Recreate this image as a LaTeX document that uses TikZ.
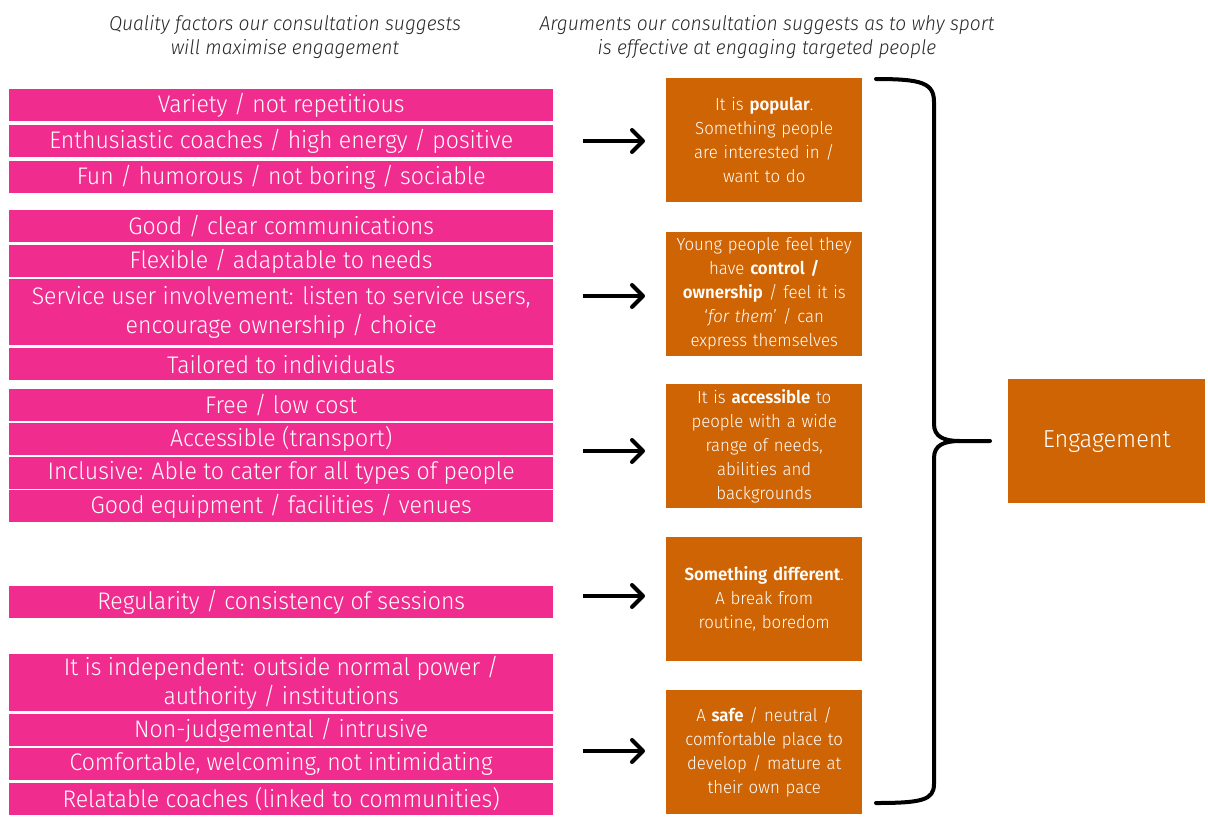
\documentclass[tikz,border=0pt]{standalone}
\usepackage{fontspec}
\setmainfont{Fira Sans}[UprightFont={* Light},BoldFont={* SemiBold},ItalicFont={* Light Italic},BoldItalicFont={* SemiBold Italic}]
\newfontfamily\boxfont{Fira Sans}[UprightFont={* Light},BoldFont={* SemiBold},ItalicFont={* Light Italic},FakeStretch=0.96]
\usetikzlibrary{arrows.meta}
\definecolor{pinkc}{RGB}{240,45,143}
\definecolor{orangec}{RGB}{207,100,5}
\definecolor{headc}{RGB}{40,40,40}
\tikzset{
  pinkbox/.style={fill=pinkc, text=white, minimum width=544pt, anchor=north west, inner sep=0pt, align=center, font=\boxfont\fontsize{24}{29}\selectfont},
  orangebox/.style={fill=orangec, text=white, minimum width=196pt, minimum height=124pt, anchor=north west, inner sep=0pt, text width=190pt, align=center, font=\boxfont\fontsize{17.5}{24}\selectfont},
  heading/.style={text=headc, align=center, font=\boxfont\fontsize{20}{24}\selectfont\itshape},
  bigarrow/.style={line width=4pt, -{Straight Barb[length=11pt,width=22pt,round]}, shorten >=21pt},
  bracestyle/.style={line width=4pt, line cap=round, line join=round}
}
\begin{document}
\begin{tikzpicture}[x=1pt,y=-1pt]
\useasboundingbox (0,0) rectangle (1208,820);
% headings
\node[heading] (h1) at (285,37) {Quality factors our consultation suggests\\will maximise engagement};
\node[heading] (h2) at (767,37) {Arguments our consultation suggests as to why sport\\is effective at engaging targeted people};
% pink boxes
\node[pinkbox, minimum height=32pt] (p1) at (9,89) {Variety / not repetitious};
\node[pinkbox, minimum height=32pt] (p2) at (9,125) {Enthusiastic coaches / high energy / positive};
\node[pinkbox, minimum height=32pt] (p3) at (9,161) {Fun / humorous / not boring / sociable};
\node[pinkbox, minimum height=32pt] (p4) at (9,210) {Good / clear communications};
\node[pinkbox, minimum height=32pt] (p5) at (9,245) {Flexible / adaptable to needs};
\node[pinkbox, minimum height=66pt] (p6) at (9,279) {Service user involvement: listen to service users,\\encourage ownership / choice};
\node[pinkbox, minimum height=32pt] (p7) at (9,348) {Tailored to individuals};
\node[pinkbox, minimum height=32pt] (p8) at (9,389) {Free / low cost};
\node[pinkbox, minimum height=32pt] (p9) at (9,423) {Accessible (transport)};
\node[pinkbox, minimum height=32pt] (p10) at (9,457) {Inclusive: Able to cater for all types of people};
\node[pinkbox, minimum height=32pt] (p11) at (9,490) {Good equipment / facilities / venues};
\node[pinkbox, minimum height=32pt] (p12) at (9,586) {Regularity / consistency of sessions};
\node[pinkbox, minimum height=57pt] (p13) at (9,654) {It is independent: outside normal power /\\authority / institutions};
\node[pinkbox, minimum height=32pt] (p14) at (9,714) {Non-judgemental / intrusive};
\node[pinkbox, minimum height=32pt] (p15) at (9,748) {Comfortable, welcoming, not intimidating};
\node[pinkbox, minimum height=32pt] (p16) at (9,783) {Relatable coaches (linked to communities)};
% orange boxes
\node[orangebox] (o1) at (666,78) {It is \textbf{popular}.\\Something people\\are interested in /\\want to do};
\node[orangebox] (o2) at (666,232) {Young people feel they\\have \textbf{control /}\\\textbf{ownership} / feel it is\\‘\textit{for them}’ / can\\express themselves};
\node[orangebox] (o3) at (666,384) {It is \textbf{accessible} to\\people with a wide\\range of needs,\\abilities and\\backgrounds};
\node[orangebox] (o4) at (666,537) {\textbf{Something different}.\\A break from\\routine, boredom};
\node[orangebox] (o5) at (666,690) {A \textbf{safe} / neutral /\\comfortable place to\\develop / mature at\\their own pace};
\node[orangebox, minimum width=197pt, font=\boxfont\fontsize{24.5}{28}\selectfont] (eng) at (1008,379) {Engagement};
% arrows
\coordinate (a1) at (583,141);
\coordinate (a2) at (583,296);
\coordinate (a3) at (583,451);
\coordinate (a4) at (583,596);
\coordinate (a5) at (583,751);
\draw[bigarrow] (a1) -- (a1 -| o1.west);
\draw[bigarrow] (a2) -- (a2 -| o2.west);
\draw[bigarrow] (a3) -- (a3 -| o3.west);
\draw[bigarrow] (a4) -- (a4 -| o4.west);
\draw[bigarrow] (a5) -- (a5 -| o5.west);
% brace
\coordinate (btop) at (876,79);
\coordinate (bbot) at (876,803);
\coordinate (btip) at (990,441);
\draw[bracestyle] (btop) .. controls (922,79) and (934,83) .. (934,102)
  -- (934,424) .. controls (934,437) and (944,441) .. (960,441) -- (btip);
\draw[bracestyle] (960,441) .. controls (944,441) and (934,445) .. (934,458)
  -- (934,784) .. controls (934,800) and (922,803) .. (bbot);
\end{tikzpicture}
\end{document}
